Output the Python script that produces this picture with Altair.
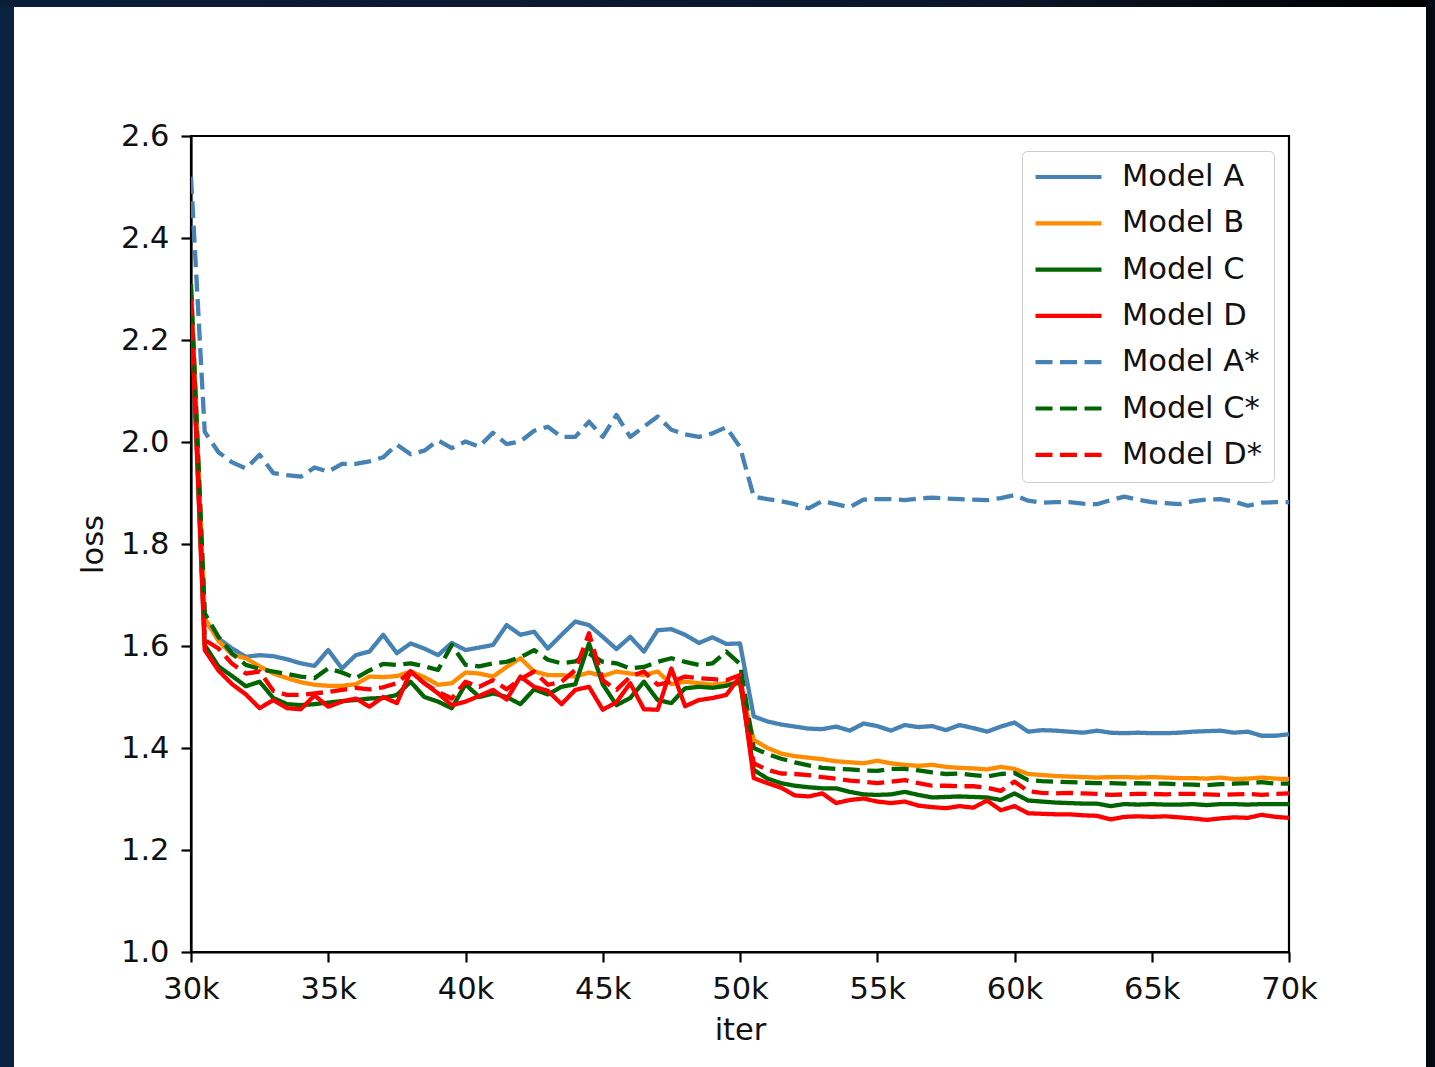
import altair as alt
import pandas as pd

ITER_START = 30000
ITER_STEP = 500

SERIES = ["Model A", "Model B", "Model C", "Model D", "Model A*", "Model C*", "Model D*"]
COLORS = ["#4682b4", "#ff8c00", "#006400", "#ff0000", "#4682b4", "#006400", "#ff0000"]
DASHES = [[1, 0], [1, 0], [1, 0], [1, 0], [17, 7.5], [17, 7.5], [17, 7.5]]

X_TICKS = [30000, 35000, 40000, 45000, 50000, 55000, 60000, 65000, 70000]
Y_TICKS = [1.0, 1.2, 1.4, 1.6, 1.8, 2.0, 2.2, 2.4, 2.6]

model_a = [2.29, 1.650, 1.615, 1.595, 1.579, 1.582, 1.580, 1.574, 1.566, 1.561,
           1.592, 1.556, 1.582, 1.589, 1.622, 1.586, 1.605, 1.595, 1.582, 1.606,
           1.592, 1.597, 1.602, 1.641, 1.622, 1.628, 1.595, 1.622, 1.648, 1.641,
           1.618, 1.594, 1.618, 1.589, 1.631, 1.633, 1.622, 1.606, 1.617, 1.604,
           1.605,
           1.462, 1.452, 1.446, 1.442, 1.438, 1.437, 1.442, 1.434, 1.448, 1.443,
           1.434, 1.445, 1.441, 1.443, 1.435, 1.445, 1.439, 1.432, 1.442, 1.450,
           1.432, 1.435, 1.434, 1.432, 1.430, 1.434, 1.430, 1.429, 1.430, 1.429,
           1.429, 1.430, 1.432, 1.433, 1.434, 1.430, 1.432, 1.424, 1.424, 1.427]

model_b = [2.30, 1.655, 1.610, 1.583, 1.576, 1.560, 1.546, 1.537, 1.529, 1.524,
           1.522, 1.522, 1.525, 1.540, 1.539, 1.541, 1.550, 1.539, 1.524, 1.527,
           1.548, 1.546, 1.540, 1.559, 1.576, 1.550, 1.543, 1.543, 1.540, 1.548,
           1.541, 1.550, 1.546, 1.543, 1.550, 1.525, 1.530, 1.527, 1.524, 1.527,
           1.525,
           1.416, 1.400, 1.389, 1.384, 1.381, 1.378, 1.374, 1.372, 1.370, 1.375,
           1.370, 1.367, 1.365, 1.367, 1.363, 1.361, 1.360, 1.358, 1.363, 1.359,
           1.349, 1.347, 1.345, 1.344, 1.343, 1.342, 1.343, 1.343, 1.342, 1.343,
           1.342, 1.341, 1.341, 1.340, 1.342, 1.339, 1.340, 1.342, 1.340, 1.339]

model_c = [2.28, 1.602, 1.560, 1.541, 1.521, 1.530, 1.498, 1.486, 1.484, 1.486,
           1.489, 1.492, 1.494, 1.497, 1.498, 1.504, 1.530, 1.500, 1.491, 1.478,
           1.525, 1.500, 1.507, 1.500, 1.486, 1.515, 1.505, 1.520, 1.525, 1.605,
           1.525, 1.484, 1.498, 1.530, 1.494, 1.488, 1.517, 1.520, 1.518, 1.522,
           1.530,
           1.357, 1.340, 1.331, 1.326, 1.323, 1.321, 1.321, 1.314, 1.309, 1.308,
           1.309, 1.314, 1.308, 1.303, 1.304, 1.305, 1.304, 1.303, 1.298, 1.311,
           1.297, 1.295, 1.293, 1.292, 1.291, 1.291, 1.286, 1.290, 1.289, 1.290,
           1.289, 1.289, 1.290, 1.288, 1.290, 1.290, 1.289, 1.290, 1.290, 1.290]

model_d = [2.27, 1.592, 1.552, 1.525, 1.505, 1.478, 1.494, 1.478, 1.476, 1.503,
           1.481, 1.491, 1.497, 1.481, 1.500, 1.488, 1.550, 1.527, 1.507, 1.484,
           1.491, 1.502, 1.514, 1.495, 1.540, 1.520, 1.512, 1.486, 1.514, 1.520,
           1.475, 1.490, 1.527, 1.476, 1.475, 1.556, 1.482, 1.494, 1.498, 1.504,
           1.540,
           1.341, 1.331, 1.322, 1.307, 1.305, 1.311, 1.292, 1.298, 1.301, 1.295,
           1.292, 1.295, 1.287, 1.284, 1.282, 1.286, 1.283, 1.297, 1.278, 1.286,
           1.272, 1.271, 1.270, 1.270, 1.268, 1.267, 1.260, 1.265, 1.266, 1.265,
           1.266, 1.264, 1.262, 1.259, 1.262, 1.264, 1.263, 1.269, 1.265, 1.263]

model_a_star = [2.52, 2.020, 1.980, 1.960, 1.948, 1.975, 1.939, 1.935, 1.932, 1.950,
                1.942, 1.957, 1.957, 1.962, 1.970, 1.995, 1.976, 1.983, 2.003, 1.988,
                2.001, 1.991, 2.018, 1.996, 2.001, 2.022, 2.030, 2.010, 2.010, 2.040,
                2.010, 2.053, 2.010, 2.030, 2.050, 2.024, 2.015, 2.010, 2.017, 2.029,
                1.990,
                1.893, 1.888, 1.884, 1.878, 1.870, 1.884, 1.878, 1.872, 1.887, 1.888,
                1.888, 1.886, 1.889, 1.891, 1.889, 1.888, 1.887, 1.886, 1.890, 1.896,
                1.885, 1.881, 1.882, 1.882, 1.879, 1.878, 1.886, 1.893, 1.887, 1.882,
                1.880, 1.878, 1.884, 1.887, 1.888, 1.883, 1.875, 1.881, 1.882, 1.882]

model_c_star = [2.31, 1.664, 1.618, 1.585, 1.563, 1.555, 1.550, 1.545, 1.540, 1.537,
                1.556, 1.548, 1.537, 1.552, 1.565, 1.563, 1.566, 1.560, 1.553, 1.602,
                1.563, 1.560, 1.566, 1.569, 1.578, 1.592, 1.573, 1.566, 1.570, 1.585,
                1.569, 1.566, 1.556, 1.559, 1.569, 1.576, 1.569, 1.563, 1.566, 1.589,
                1.565,
                1.400, 1.388, 1.379, 1.372, 1.366, 1.361, 1.359, 1.358, 1.356, 1.355,
                1.359, 1.359, 1.356, 1.352, 1.349, 1.350, 1.347, 1.344, 1.349, 1.351,
                1.337, 1.335, 1.334, 1.333, 1.332, 1.331, 1.331, 1.330, 1.331, 1.330,
                1.330, 1.329, 1.328, 1.327, 1.329, 1.330, 1.331, 1.333, 1.330, 1.330]

model_d_star = [2.28, 1.612, 1.595, 1.565, 1.546, 1.550, 1.512, 1.504, 1.504, 1.507,
                1.510, 1.514, 1.518, 1.515, 1.519, 1.527, 1.550, 1.527, 1.510, 1.497,
                1.530, 1.520, 1.533, 1.515, 1.535, 1.550, 1.524, 1.530, 1.553, 1.625,
                1.533, 1.514, 1.540, 1.550, 1.524, 1.530, 1.540, 1.537, 1.535, 1.533,
                1.543,
                1.370, 1.357, 1.350, 1.349, 1.347, 1.343, 1.340, 1.336, 1.334, 1.331,
                1.334, 1.337, 1.331, 1.326, 1.326, 1.325, 1.325, 1.322, 1.316, 1.334,
                1.315, 1.312, 1.311, 1.312, 1.311, 1.310, 1.308, 1.309, 1.310, 1.310,
                1.309, 1.310, 1.310, 1.309, 1.308, 1.309, 1.310, 1.308, 1.310, 1.311]

ALL_VALUES = [model_a, model_b, model_c, model_d, model_a_star, model_c_star, model_d_star]

rows = []
for name, vals in zip(SERIES, ALL_VALUES):
    for i, v in enumerate(vals):
        rows.append({"iter": ITER_START + i * ITER_STEP, "loss": v, "model": name})
df = pd.DataFrame(rows)

FONT = "DejaVu Sans"
FS = 30.5

legend = alt.Legend(
    title=None, orient="none", legendX=831, legendY=15,
    fillColor="white", strokeColor="#cccccc", cornerRadius=5, padding=11,
    symbolType="stroke", symbolSize=4356, symbolStrokeWidth=4.2,
    clipHeight=30, rowPadding=15.3, labelOffset=18,
    labelFontSize=FS, labelFont=FONT, labelColor="#111111", labelLimit=400,
)

lines = alt.Chart(df).mark_line(strokeWidth=4.3, strokeJoin="round", strokeCap="butt", clip=True).encode(
    x=alt.X("iter:Q",
            scale=alt.Scale(domain=[30000, 70000], nice=False, zero=False),
            axis=alt.Axis(values=X_TICKS, labelExpr="(datum.value / 1000) + 'k'", title="iter",
                          labelFlush=False, labelOverlap=False, labelPadding=12, titlePadding=11)),
    y=alt.Y("loss:Q",
            scale=alt.Scale(domain=[1.0, 2.6], nice=False, zero=False),
            axis=alt.Axis(values=Y_TICKS, format=".1f", title="loss",
                          labelFlush=False, labelOverlap=False, labelPadding=12, titlePadding=12)),
    color=alt.Color("model:N", scale=alt.Scale(domain=SERIES, range=COLORS), legend=legend),
    strokeDash=alt.StrokeDash("model:N", scale=alt.Scale(domain=SERIES, range=DASHES), legend=legend),
)

one = pd.DataFrame({"p": [0]})
left_strip = alt.Chart(one).mark_rect(color="#0b2142").encode(
    x=alt.value(-191), x2=alt.value(-177), y=alt.value(-136), y2=alt.value(931))
top_strip = alt.Chart(one).mark_rect(
    color=alt.Gradient(gradient="linear", x1=0, x2=1, y1=0, y2=0,
                       stops=[alt.GradientStop(color="#0c1d3a", offset=0),
                              alt.GradientStop(color="#0a1628", offset=0.7),
                              alt.GradientStop(color="#000000", offset=1)])).encode(
    x=alt.value(-191), x2=alt.value(1244), y=alt.value(-136), y2=alt.value(-129))
right_strip = alt.Chart(one).mark_rect(color="#040a14").encode(
    x=alt.value(1235), x2=alt.value(1244), y=alt.value(-136), y2=alt.value(931))

chart = alt.layer(left_strip, top_strip, right_strip, lines).properties(
    width=1098, height=816,
    autosize=alt.AutoSizeParams(type="none"),
    padding={"left": 191, "top": 136, "right": 146, "bottom": 115},
    background="white",
).configure(font=FONT).configure_axis(
    domainColor="black", domainWidth=2.2, tickColor="black", tickWidth=2.2, tickSize=10,
    labelFont=FONT, labelFontSize=FS, labelColor="#111111",
    titleFont=FONT, titleFontSize=FS, titleColor="#111111", titleFontWeight="normal",
    grid=False, zindex=1,
).configure_view(
    stroke="black", strokeWidth=2.2, fill="white"
)

chart.save("out.html", embed_options={"renderer": "svg", "actions": False})
